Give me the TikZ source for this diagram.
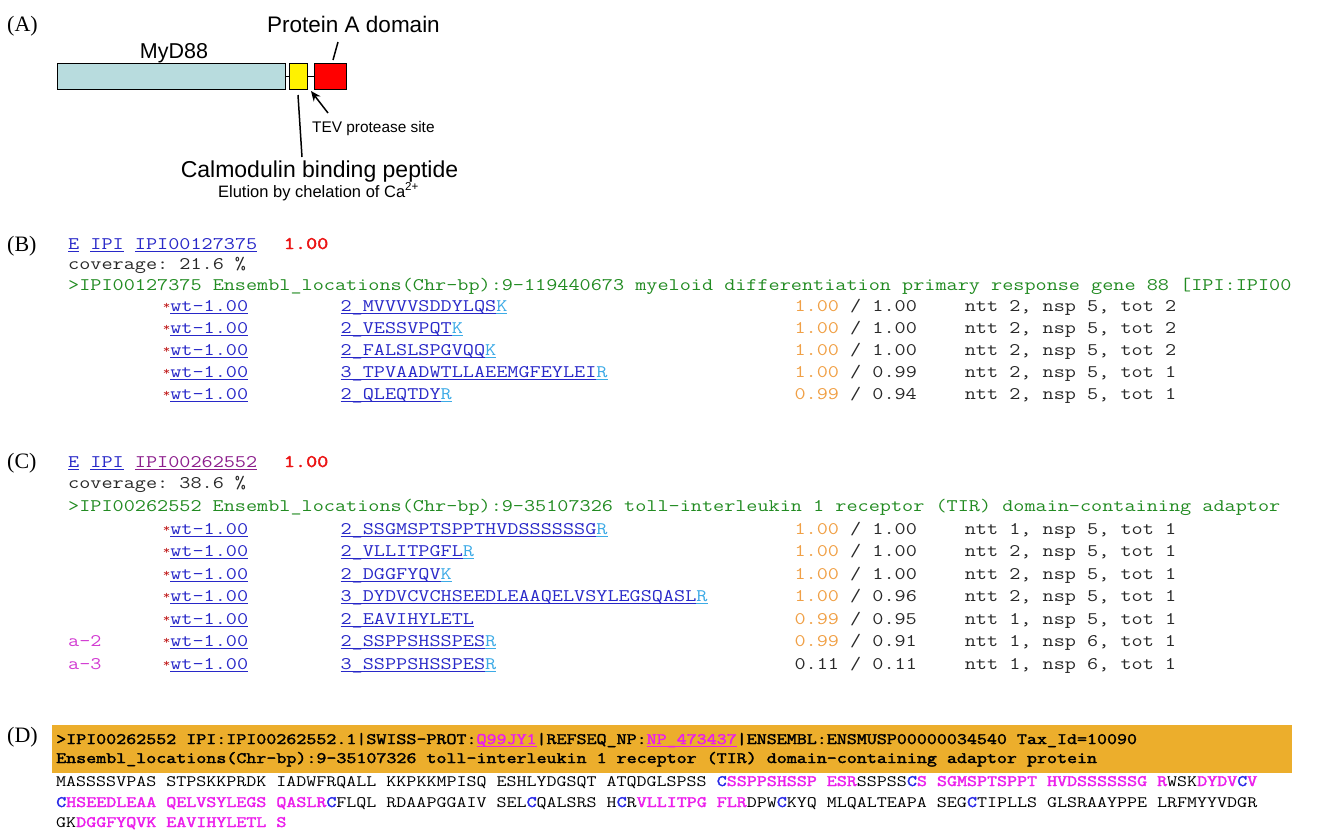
\documentclass[tikz,border=0pt]{standalone}
\usepackage{fontspec}
\setmainfont{Liberation Serif}
\usetikzlibrary{arrows.meta}

% typewriter face for the search-result listing, widened to the listing's pitch
\newfontfamily\monofam[FakeStretch=1.22, BoldFont={Latin Modern Mono}, BoldFeatures={FakeBold=2.2}]{Latin Modern Mono}
\newfontfamily\serifam{Liberation Serif}
\newfontfamily\sansfam{Liberation Sans}
\newcommand{\lstfont}{\monofam\fontsize{17.7}{21}\selectfont\frenchspacing}
\newcommand{\seqfont}{\monofam\fontsize{15.93}{19}\selectfont\frenchspacing}
\newcommand{\labfont}{\serifam\fontsize{22}{24}\selectfont}

\definecolor{boxblue}{RGB}{184,220,222}
\definecolor{linkblue}{RGB}{40,40,200}
\definecolor{linkpurple}{RGB}{140,30,140}
\definecolor{termcyan}{RGB}{60,170,230}
\definecolor{hdrgreen}{RGB}{34,139,34}
\definecolor{probor}{RGB}{240,160,70}
\definecolor{ampink}{RGB}{210,60,210}
\definecolor{starred}{RGB}{190,20,20}
\definecolor{hitred}{RGB}{235,20,20}
\definecolor{fastaorange}{RGB}{236,174,44}
\definecolor{seqmag}{RGB}{235,30,235}
\definecolor{seqblue}{RGB}{40,40,230}
\definecolor{txtgrey}{RGB}{40,40,40}

% underlined hyperlink-style text; the rule takes the current colour
\newcommand{\lnk}[1]{\setbox0=\hbox{#1}\rlap{\rule[-3pt]{\wd0}{1.2pt}}\box0\relax}
% small raised marker occupying one character cell
\newcommand{\hitmark}{\makebox[11.35pt][r]{\textcolor{starred}{\raisebox{2pt}{\fontsize{12}{12}\selectfont *}}}}
% highlighted residues in the sequence listing
\newcommand{\mg}[1]{\textcolor{seqmag}{\bfseries #1}}
\newcommand{\cy}{\textcolor{seqblue}{\bfseries C}}

\begin{document}
\begin{tikzpicture}[x=1pt,y=-1pt,
  lst/.style={inner sep=0pt, anchor=base west, font=\lstfont},
  seqline/.style={inner sep=0pt, anchor=base west, font=\seqfont},
  panel/.style={inner sep=0pt, anchor=base west, font=\labfont},
  domainbox/.style={draw=black, line width=1.4pt, minimum height=26pt, inner sep=0pt, anchor=north west},
  linker/.style={line width=1.1pt},
  pointer/.style={line width=1.5pt},
  annot/.style={inner sep=0pt, anchor=base}]
\useasboundingbox (0,0) rectangle (1319,830);

% ---------------- (A) construct ----------------
\node[panel] (labA) at (7,31) {(A)};
\node[domainbox, fill=boxblue, minimum width=228pt] (myd) at (57,63) {};
\node[domainbox, fill=yellow, minimum width=18pt] (cbp) at (289,63) {};
\node[domainbox, fill=red, minimum width=32pt] (prota) at (314,63) {};
\draw[linker] (myd.east) -- (cbp.west);
\draw[linker] (cbp.east) -- (prota.west);

\node[annot, font=\sansfam\fontsize{21.5}{24}\selectfont] (mydlab) at (174,58) {MyD88};
\node[annot, font=\sansfam\fontsize{22.5}{25}\selectfont] (protlab) at (353.5,32) {Protein A domain};
\node[inner sep=0pt, anchor=base west, font=\sansfam\fontsize{15.4}{18}\selectfont] (tevlab) at (312,132) {TEV protease site};
\node[annot, font=\sansfam\fontsize{23}{26}\selectfont] (cbplab) at (319.5,177) {Calmodulin binding peptide};
\node[annot, font=\sansfam\fontsize{16.5}{19}\selectfont] (elulab) at (318.5,197) {Elution by chelation of Ca\textsuperscript{2+}};

\coordinate (protA1) at (338,42);
\coordinate (protA2) at (333,60);
\draw[pointer] (protA1) -- (protA2);
\coordinate (cbp1) at (298,95);
\coordinate (cbp2) at (302,157);
\draw[pointer] (cbp1) -- (cbp2);
\coordinate (tev1) at (328,113);
\coordinate (tev2) at (311,91);
\draw[pointer, -{Stealth[length=10pt,width=8.5pt]}] (tev1) -- (tev2);

% ---------------- (B) MyD88 hit ----------------
\node[panel] (labB) at (7,251) {(B)};
\node[lst, text=linkblue] (bhead) at (68,249) {\lnk{E} \lnk{IPI} \lnk{IPI00127375}};
\node[lst, text=hitred, font=\lstfont\bfseries] (bprob) at (283.65,249) {1.00};
\node[lst, text=txtgrey] (bcov) at (68,269) {coverage: 21.6 \%};
\node[lst, text=hdrgreen] (bdesc) at (68,290) {>IPI00127375 Ensembl\_locations(Chr-bp):9-119440673 myeloid differentiation primary response gene 88 [IPI:IPI00};

\foreach \yy/\pep/\tm/\pa/\pb/\nt [count=\i] in {
  311/2\_MVVVVSDDYLQS/K/1.00/1.00/ntt 2{,} nsp 5{,} tot 2,
  333/2\_VESSVPQT/K/1.00/1.00/ntt 2{,} nsp 5{,} tot 2,
  355/2\_FALSLSPGVQQ/K/1.00/1.00/ntt 2{,} nsp 5{,} tot 2,
  377/3\_TPVAADWTLLAEEMGFEYLEI/R/1.00/0.99/ntt 2{,} nsp 5{,} tot 1,
  399/2\_QLEQTDY/R/0.99/0.94/ntt 2{,} nsp 5{,} tot 1}{
  \node[lst, text=linkblue] (bw\i) at (158.8,\yy) {\hitmark\lnk{wt-1.00}};
  \node[lst, text=linkblue] (bp\i) at (340.4,\yy) {\lnk{\pep}\textcolor{termcyan}{\lnk{\tm}}};
  \node[lst, text=txtgrey] (bs\i) at (794.4,\yy) {\textcolor{probor}{\pa} / \pb};
  \node[lst, text=txtgrey] (bn\i) at (964.65,\yy) {\nt};
}

% ---------------- (C) TIRAP hit ----------------
\node[panel] (labC) at (7,468) {(C)};
\node[lst] (chead) at (68,467) {\textcolor{linkblue}{\lnk{E} \lnk{IPI}} \textcolor{linkpurple}{\lnk{IPI00262552}}};
\node[lst, text=hitred, font=\lstfont\bfseries] (cprob) at (283.65,467) {1.00};
\node[lst, text=txtgrey] (ccov) at (68,488) {coverage: 38.6 \%};
\node[lst, text=hdrgreen] (cdesc) at (68,511) {>IPI00262552 Ensembl\_locations(Chr-bp):9-35107326 toll-interleukin 1 receptor (TIR) domain-containing adaptor};

\foreach \yy/\pep/\tm/\pa/\pb/\nt [count=\i] in {
  534/2\_SSGMSPTSPPTHVDSSSSSSG/R/1.00/1.00/ntt 1{,} nsp 5{,} tot 1,
  556/2\_VLLITPGFL/R/1.00/1.00/ntt 2{,} nsp 5{,} tot 1,
  579/2\_DGGFYQV/K/1.00/1.00/ntt 2{,} nsp 5{,} tot 1,
  601/3\_DYDVCVCHSEEDLEAAQELVSYLEGSQASL/R/1.00/0.96/ntt 2{,} nsp 5{,} tot 1,
  624/2\_EAVIHYLETL//0.99/0.95/ntt 1{,} nsp 5{,} tot 1,
  646/2\_SSPPSHSSPES/R/0.99/0.91/ntt 1{,} nsp 6{,} tot 1}{
  \node[lst, text=linkblue] (cw\i) at (158.8,\yy) {\hitmark\lnk{wt-1.00}};
  \node[lst, text=linkblue] (cp\i) at (340.4,\yy) {\lnk{\pep}\textcolor{termcyan}{\lnk{\tm}}};
  \node[lst, text=txtgrey] (cs\i) at (794.4,\yy) {\textcolor{probor}{\pa} / \pb};
  \node[lst, text=txtgrey] (cn\i) at (964.65,\yy) {\nt};
}
\node[lst, text=linkblue] (cw7) at (158.8,669) {\hitmark\lnk{wt-1.00}};
\node[lst, text=linkblue] (cp7) at (340.4,669) {\lnk{3\_SSPPSHSSPES}\textcolor{termcyan}{\lnk{R}}};
\node[lst, text=txtgrey] (cs7) at (794.4,669) {0.11 / 0.11};
\node[lst, text=txtgrey] (cn7) at (964.65,669) {ntt 1, nsp 6, tot 1};
\node[lst, text=ampink] (ca2) at (68,646) {a-2};
\node[lst, text=ampink] (ca3) at (68,669) {a-3};

% ---------------- (D) sequence coverage ----------------
\node[panel] (labD) at (7,742) {(D)};
\node[fill=fastaorange, inner sep=0pt, minimum width=1240pt, minimum height=48pt, anchor=north west] (fasta) at (52,725) {};
\node[seqline, font=\seqfont\bfseries] (dh1) at (56,744) {>IPI00262552 IPI:IPI00262552.1|SWISS-PROT:\textcolor{seqmag}{\lnk{Q99JY1}}|REFSEQ\_NP:\textcolor{seqmag}{\lnk{NP\_473437}}|ENSEMBL:ENSMUSP00000034540 Tax\_Id=10090};
\node[seqline, font=\seqfont\bfseries] (dh2) at (56,763) {Ensembl\_locations(Chr-bp):9-35107326 toll-interleukin 1 receptor (TIR) domain-containing adaptor protein};
\node[seqline] (ds1) at (56,786) {MASSSSVPAS STPSKKPRDK IADWFRQALL KKPKKMPISQ ESHLYDGSQT ATQDGLSPSS \cy\mg{SSPPSHSSP ESR}SSPSS\cy\mg{S SGMSPTSPPT HVDSSSSSSG R}WSK\mg{DYDV}\cy\mg{V}};
\node[seqline] (ds2) at (56,807) {\cy\mg{HSEEDLEAA QELVSYLEGS QASLR}\cy{}FLQL RDAAPGGAIV SEL\cy{}QALSRS H\cy{}R\mg{VLLITPG FLR}DPW\cy{}KYQ MLQALTEAPA SEG\cy{}TIPLLS GLSRAAYPPE LRFMYYVDGR};
\node[seqline] (ds3) at (56,827) {GK\mg{DGGFYQVK EAVIHYLETL S}};
\end{tikzpicture}
\end{document}
